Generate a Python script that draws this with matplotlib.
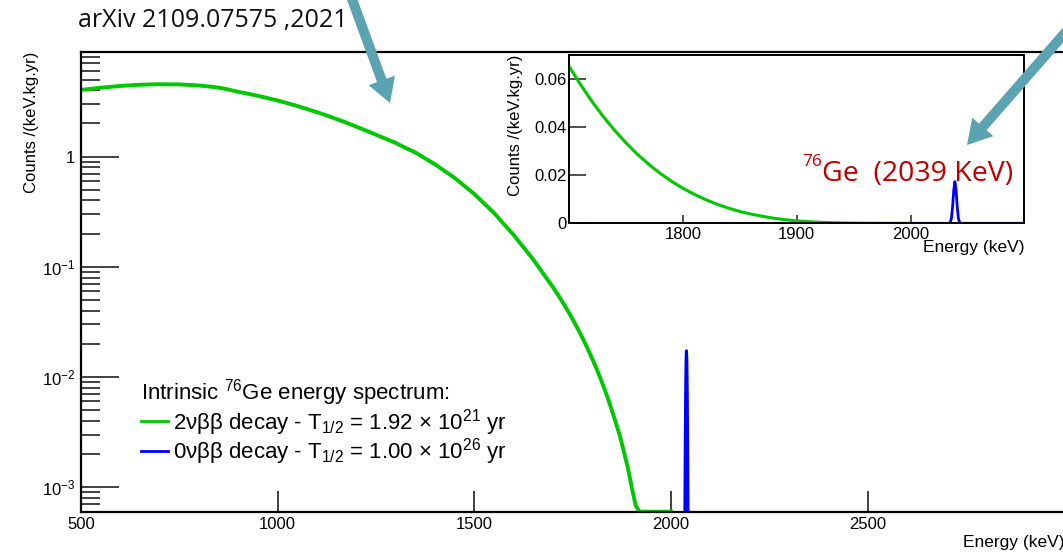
import matplotlib
matplotlib.use('Agg')
import matplotlib.pyplot as plt
import matplotlib.ticker as mticker
from matplotlib.lines import Line2D
from matplotlib.patches import FancyArrow
import numpy as np

# 2vbb continuous spectrum (main plot + inset)
energy_2nu = [500, 525, 550, 575, 600, 625, 650, 675, 700, 725, 750, 775,
              800, 825, 850, 875, 900, 925, 950, 975, 1000, 1025, 1050, 1075,
              1100, 1125, 1150, 1175, 1200, 1225, 1250, 1275, 1300, 1325, 1350, 1375,
              1400, 1425, 1450, 1475, 1500, 1525, 1550, 1575, 1600, 1625, 1650, 1675,
              1700, 1710, 1720, 1730, 1740, 1750, 1760, 1770, 1780, 1790,
              1800, 1810, 1820, 1830, 1840, 1850, 1860, 1870, 1880, 1890,
              1900, 1910, 1920, 1930, 1940, 1950, 1960, 1970, 1980, 1990, 2000]
counts_2nu = [4.03, 4.12, 4.22, 4.30, 4.38, 4.44, 4.49, 4.52, 4.54, 4.53, 4.52, 4.47,
              4.42, 4.33, 4.23, 4.06, 3.87, 3.72, 3.56, 3.39, 3.23, 3.05, 2.88, 2.70,
              2.53, 2.36, 2.19, 2.03, 1.87, 1.72, 1.58, 1.45, 1.33, 1.20, 1.09, 0.962,
              0.851, 0.738, 0.640, 0.541, 0.457, 0.375, 0.308, 0.244, 0.194, 0.150, 0.116, 0.0867,
              0.065, 0.0575, 0.0505, 0.0442, 0.0385, 0.0333, 0.0286, 0.0244, 0.0207, 0.0174,
              0.0145, 0.0120, 0.0098, 0.0079, 0.0063, 0.0049, 0.0038, 0.0029, 0.0021, 0.0015,
              0.0010, 0.00068, 0.00043, 0.00026, 0.00015, 0.00008, 0.00004, 0.00002, 0.000005,
              0.000001, 0.0]

# 0vbb peak at Q = 2039 keV
energy_0nu = [2000, 2034, 2035, 2036, 2037, 2038, 2039, 2040, 2041, 2042, 2043, 2044, 2100]
counts_0nu = [0.0, 0.0, 0.0005, 0.0023, 0.0071, 0.0139, 0.0173, 0.0139, 0.0071, 0.0023, 0.0005, 0.0, 0.0]

main_xticks = [500, 1000, 1500, 2000, 2500]
main_yticks = [1e-3, 1e-2, 1e-1, 1]
inset_xticks = [1800, 1900, 2000]
inset_yticks = [0, 0.02, 0.04, 0.06]

green = '#00c800'
blue = '#0000ff'
teal = '#5ba3b0'
red = '#c00000'

plt.rcParams['font.family'] = ['Liberation Sans', 'DejaVu Sans']
plt.rcParams['mathtext.fontset'] = 'custom'
plt.rcParams['mathtext.rm'] = 'Liberation Sans'
plt.rcParams['mathtext.it'] = 'Liberation Sans:italic'
plt.rcParams['mathtext.bf'] = 'Liberation Sans:bold'

W, H = 1063, 553
fig = plt.figure(figsize=(W / 100, H / 100), dpi=100)


def px_rect(l, t, r, b):
    return [l / W, 1 - b / H, (r - l) / W, (b - t) / H]


# overlay in pixel coords for the slide annotations
ov = fig.add_axes([0, 0, 1, 1])
ov.set_xlim(0, W)
ov.set_ylim(H, 0)
ov.axis('off')
ov.set_zorder(10)
ov.patch.set_alpha(0)

# ---- main plot (log scale) ----
ax = fig.add_axes(px_rect(81, 52, 1064.5, 511.7))
ylo, yhi = 6e-4, 8.9
ax.plot(energy_2nu, np.clip(counts_2nu, ylo, None), color=green, lw=2.8)
ax.plot(energy_0nu, counts_0nu, color=blue, lw=2.2)
ax.set_yscale('log')
ax.set_xlim(500, 3000)
ax.set_ylim(ylo, yhi)
ax.set_xticks(main_xticks)
ax.set_yticks(main_yticks)
ax.yaxis.set_minor_locator(mticker.LogLocator(base=10, subs=np.arange(2, 10)))
ax.yaxis.set_minor_formatter(mticker.NullFormatter())


def log_fmt(v, pos):
    if v == 1:
        return '1'
    return r'$10^{%d}$' % round(np.log10(v))


ax.yaxis.set_major_formatter(mticker.FuncFormatter(log_fmt))
ax.tick_params(axis='x', which='major', direction='in', length=15, width=1.3,
               color='#333333', labelsize=12, pad=4)
ax.tick_params(axis='y', which='major', direction='in', length=27, width=1.3,
               color='#333333', labelsize=12, pad=4)
ax.tick_params(axis='y', which='minor', direction='in', length=14, width=1.3,
               color='#333333')
for s in ax.spines.values():
    s.set_linewidth(1.6)
ax.set_xlabel('Energy (keV)', loc='right', fontsize=12.5, labelpad=2)
ax.set_ylabel('Counts /(keV.kg.yr)', loc='top', fontsize=12, labelpad=2)

handles = [Line2D([], [], color=green, lw=2),
           Line2D([], [], color=blue, lw=2)]
labels = [r'2νββ decay - T$_{1/2}$ = 1.92 × 10$^{21}$ yr',
          r'0νββ decay - T$_{1/2}$ = 1.00 × 10$^{26}$ yr']
leg = ax.legend(handles, labels, title=r'Intrinsic $^{76}$Ge energy spectrum:',
                loc='upper left', bbox_to_anchor=(141, 377), bbox_transform=ov.transData,
                frameon=False, fontsize=16, title_fontsize=16, alignment='left',
                handlelength=1.2, handletextpad=0.25, labelspacing=-0.05,
                borderpad=0, borderaxespad=0)

# ---- inset (linear scale) ----
ax2 = fig.add_axes(px_rect(569.3, 54.7, 1024.3, 223.3))
ax2.plot(energy_2nu, counts_2nu, color=green, lw=2.2)
ax2.plot(energy_0nu, counts_0nu, color=blue, lw=2.0)
ax2.set_xlim(1700, 2100)
ax2.set_ylim(0, 0.07)
ax2.set_xticks(inset_xticks)
ax2.set_yticks(inset_yticks)
ax2.yaxis.set_major_formatter(mticker.FuncFormatter(lambda v, p: '0' if v == 0 else f'{v:.2f}'))
ax2.tick_params(axis='x', direction='in', length=6, width=1.2, color='#333333',
                labelsize=12, pad=3)
ax2.tick_params(axis='y', direction='in', length=12, width=1.2, color='#333333',
                labelsize=12, pad=2)
for s in ax2.spines.values():
    s.set_linewidth(1.4)
ax2.set_xlabel('Energy (keV)', loc='right', fontsize=12.5, labelpad=-2)
ax2.set_ylabel('Counts /(keV.kg.yr)', loc='top', fontsize=12, labelpad=8)

# ---- slide annotations ----
ov.text(78, 27, 'arXiv 2109.07575 ,2021', family='Open Sans', fontsize=18,
        va='baseline', ha='left', color='#111111')
ov.text(822, 181, 'Ge  (2039 KeV)', family='Open Sans', fontsize=20.5,
        va='baseline', ha='left', color=red)
ov.text(822, 166, '76', family='Open Sans', fontsize=12.5,
        va='baseline', ha='right', color=red)

ov.add_patch(FancyArrow(345, -20, 45, 123, width=10, head_width=28, head_length=24,
                        length_includes_head=True, color=teal, lw=0))
ov.add_patch(FancyArrow(1092, 2, -125, 143, width=10, head_width=28, head_length=24,
                        length_includes_head=True, color=teal, lw=0))

fig.savefig('out.png', dpi=100)
